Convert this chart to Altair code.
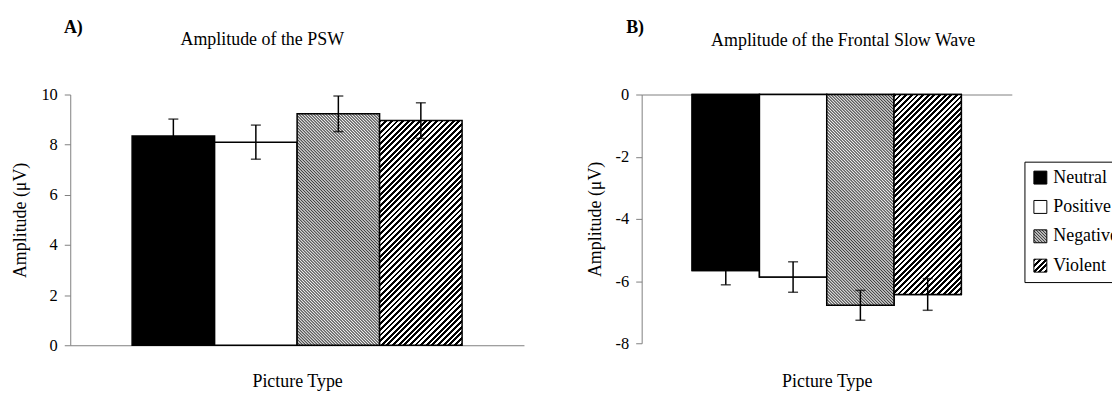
import math
import altair as alt
import pandas as pd

# ---------------- data ----------------
categories = ["Neutral", "Positive", "Negative", "Violent"]
psw_mean = [8.35, 8.10, 9.23, 8.96]
psw_err = [0.67, 0.68, 0.71, 0.71]
fsw_mean = [-5.66, -5.87, -6.78, -6.43]
fsw_err = [0.46, 0.49, 0.48, 0.51]
psw_ticks = [0, 2, 4, 6, 8, 10]
fsw_ticks = [-8, -6, -4, -2, 0]

# ---------------- style ----------------
SERIF = "Liberation Serif"
GRAY = "#808080"
PAD_OUT = 0.75
STYLE = {
    "Neutral": {"kind": "solid", "color": "black"},
    "Positive": {"kind": "solid", "color": "white"},
    # fine hatch: soft (triangle) profile so it renders as a clean fine texture
    "Negative": {"kind": "hatch", "dir": "\\", "pitch": 3 / math.sqrt(2), "duty": 0.5,
                 "dark": "#3c3c3c", "light": "#f2f2f2", "soft": True},
    "Violent": {"kind": "hatch", "dir": "/", "pitch": 4.0, "duty": 0.5,
                "dark": "#000000", "light": "#ffffff", "soft": False},
}


def hatch_gradient(w, h, spec, gid):
    """Linear gradient that draws 45 degree hatching in a w x h box."""
    c = (w + h) / (w * w + h * h)
    p, q = c * w, c * h
    if spec["dir"] == "/":
        x1, y1, x2, y2 = 0.0, 0.0, p, q
    else:
        x1, y1, x2, y2 = 0.0, 1.0, p, 1.0 - q
    n = (w + h) / (math.sqrt(2) * spec["pitch"])
    stops = []
    i = 0
    while i < n:
        a = i / n
        b = min((i + spec["duty"]) / n, 1.0)
        e = min((i + 1) / n, 1.0)
        if spec.get("soft"):
            stops += [(a, spec["dark"]), (b, spec["light"])]
        else:
            stops += [(a, spec["dark"]), (b, spec["dark"]), (b, spec["light"]), (e, spec["light"])]
        i += 1
    return {
        "gradient": "linear", "id": gid,
        "x1": round(x1, 6), "y1": round(y1, 6), "x2": round(x2, 6), "y2": round(y2, 6),
        "stops": [{"offset": round(o, 6), "color": col} for o, col in stops],
    }


def gradient_expr(g):
    stops = ",".join("{offset:%s,color:'%s'}" % (s["offset"], s["color"]) for s in g["stops"])
    return ("{gradient:'linear',id:'%s',x1:%s,y1:%s,x2:%s,y2:%s,stops:[%s]}"
            % (g["id"], g["x1"], g["y1"], g["x2"], g["y2"], stops))


LEG_SIDE = 13
legend_range = []
for cat in categories:
    s = STYLE[cat]
    if s["kind"] == "solid":
        legend_range.append(s["color"])
    else:
        legend_range.append(alt.ExprRef(expr=gradient_expr(
            hatch_gradient(LEG_SIDE, LEG_SIDE, s, "leg_" + cat))))


def panel(means, errs, domain, ticks, W, H, prefix, title_text, title_dx, title_y,
          letter, letter_x, letter_y, x_orient, x_title_y, y_title_x, legend=None):
    df = pd.DataFrame({
        "cat": categories,
        "mean": means,
        "lo": [m - e for m, e in zip(means, errs)],
        "hi": [m + e for m, e in zip(means, errs)],
    })
    xscale = alt.Scale(domain=categories, paddingInner=0, paddingOuter=PAD_OUT)
    xaxis = alt.Axis(orient=x_orient, labels=False, ticks=False, domain=True,
                     domainColor=GRAY, domainWidth=1, grid=False,
                     title="Picture Type", titleFont=SERIF, titleFontSize=18,
                     titleFontWeight="normal", titleColor="black",
                     titleY=x_title_y, titleBaseline="middle")
    X = alt.X("cat:N", scale=xscale, axis=xaxis, sort=categories)
    yscale = alt.Scale(domain=domain, nice=False, zero=True)
    yaxis = alt.Axis(values=ticks, labelExpr="'' + datum.value", labelFont=SERIF,
                     labelFontSize=16.5, labelColor="black", labelPadding=7,
                     tickSize=6, tickColor=GRAY, tickWidth=1,
                     domainColor=GRAY, domainWidth=1, grid=False,
                     title="Amplitude (μV)", titleFont=SERIF, titleFontSize=18,
                     titleFontWeight="normal", titleColor="black",
                     titleX=y_title_x, titleY=H / 2, titleAngle=270,
                     titleAlign="center", titleBaseline="middle")

    def Y(field):
        return alt.Y(field + ":Q", scale=yscale, axis=yaxis)

    base = alt.Chart(df)
    layers = []
    if legend is not None:
        layers.append(base.mark_bar(stroke="black", strokeWidth=1.5).encode(
            x=X, y=Y("mean"),
            fill=alt.Fill("cat:N", scale=alt.Scale(domain=categories, range=legend_range),
                          legend=legend)))
    bw = W / (len(categories) + 2 * PAD_OUT)
    span = domain[1] - domain[0]
    for cat, m in zip(categories, means):
        s = STYLE[cat]
        if s["kind"] == "solid":
            fill = s["color"]
        else:
            fill = hatch_gradient(bw, abs(m) / span * H, s, prefix + "_" + cat)
        layers.append(base.transform_filter(alt.datum.cat == cat)
                      .mark_bar(fill=fill, stroke="black", strokeWidth=1.5)
                      .encode(x=X, y=Y("mean")))
    layers.append(base.mark_rule(color="black", strokeWidth=1.5).encode(
        x=X, y=Y("lo"), y2="hi:Q"))
    for f in ("lo", "hi"):
        layers.append(base.mark_tick(color="black", thickness=1.5, size=10,
                                     orient="horizontal").encode(x=X, y=Y(f)))
    layers.append(alt.Chart(pd.DataFrame({"t": [letter]})).mark_text(
        align="left", baseline="alphabetic", font=SERIF, fontSize=18,
        fontWeight="bold", color="black").encode(
        x=alt.value(letter_x), y=alt.value(letter_y), text="t:N"))
    layers.append(alt.Chart(pd.DataFrame({"t": [title_text]})).mark_text(
        align="center", baseline="alphabetic", font=SERIF, fontSize=18,
        fontWeight="normal", color="black").encode(
        x=alt.value(W / 2 + title_dx), y=alt.value(title_y), text="t:N"))
    return alt.layer(*layers).properties(width=W, height=H)


L_W, L_H = 456, 252
R_W, R_H = 372, 250

left = panel(psw_mean, psw_err, [0, 10], psw_ticks, L_W, L_H, "l",
             "Amplitude of the PSW", -35, -50, "A)", -6.4, -62,
             "bottom", 36.3, -50.4)

# legend position is relative to the first panel's plot origin (concat lifts legends)
legend = alt.Legend(orient="none", legendX=959, legendY=67.5, title=None,
                    symbolType="square", symbolSize=LEG_SIDE * LEG_SIDE,
                    symbolStrokeColor="black", symbolStrokeWidth=1, symbolOpacity=1,
                    labelFont=SERIF, labelFontSize=18, labelColor="black",
                    labelOffset=4, labelLimit=300, rowPadding=11.5, padding=7,
                    strokeColor="black", fillColor="white")

right = panel(fsw_mean, fsw_err, [-8, 0], fsw_ticks, R_W, R_H, "r",
              "Amplitude of the Frontal Slow Wave", 16.5, -49, "B)", -15.6, -62,
              "top", R_H + 38, -46.3, legend=legend)

chart = alt.hconcat(left, right, spacing=118.3, bounds="flush").properties(
    padding={"left": 10.6, "top": 18, "right": -14, "bottom": 0},
    background="white",
).configure_view(stroke=None)

chart.save("out.html", embed_options={"renderer": "svg", "actions": False})
